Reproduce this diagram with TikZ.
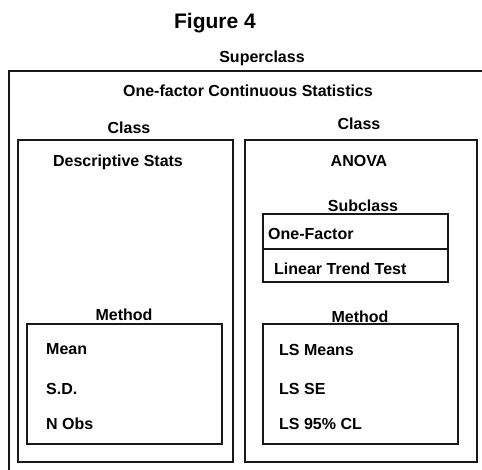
\documentclass[tikz,border=0pt]{standalone}
\usepackage{fontspec}
\setmainfont{Liberation Sans}
\begin{document}
\begin{tikzpicture}[x=1pt,y=-1pt,
  box/.style={draw=black!90,line width=1.8pt},
  lbl/.style={inner sep=0pt,anchor=base,font=\fontsize{16}{19}\selectfont\bfseries},
  item/.style={inner sep=0pt,anchor=base west,font=\fontsize{16}{19}\selectfont\bfseries}]
\useasboundingbox (0,0) rectangle (482,469);
\clip (0,0) rectangle (482,469);
\fill[white] (0,0) rectangle (482,469);

% title
\node[lbl,font=\fontsize{21}{25}\selectfont\bfseries] (fig) at (215,28) {Figure 4};

% superclass frame (runs past the page edge)
\node[lbl] (super) at (262,62) {Superclass};
\draw[box] (9,71) rectangle (495,480);
\node[lbl] (onefac) at (248,96.5) {One-factor Continuous Statistics};

% left class
\node[lbl] (classL) at (129,133) {Class};
\draw[box] (18,140) rectangle (233,462);
\node[lbl] (desc) at (118,166) {Descriptive Stats};
\node[lbl] (methL) at (124,320) {Method};
\draw[box] (27,324) rectangle (222,444);
\node[item] (mean) at (46,354) {Mean};
\node[item] (sd) at (46,394) {S.D.};
\node[item] (nobs) at (46,429) {N Obs};

% right class
\node[lbl] (classR) at (359,129) {Class};
\draw[box] (245,140) rectangle (477,462);
\node[lbl] (anova) at (359,166) {ANOVA};
\node[lbl] (sub) at (363,211) {Subclass};
\draw[box] (263,214) rectangle (448,282);
\draw[box] (263,249) -- (448,249);
\node[item] (onef) at (268,239) {One-Factor};
\node[item] (ltt) at (274,274) {Linear Trend Test};
\node[lbl] (methR) at (360,322) {Method};
\draw[box] (263,324) rectangle (458,444);
\node[item] (lsm) at (279,355) {LS Means};
\node[item] (lsse) at (279,394) {LS SE};
\node[item] (lscl) at (279,429) {LS 95\% CL};
\end{tikzpicture}
\end{document}
